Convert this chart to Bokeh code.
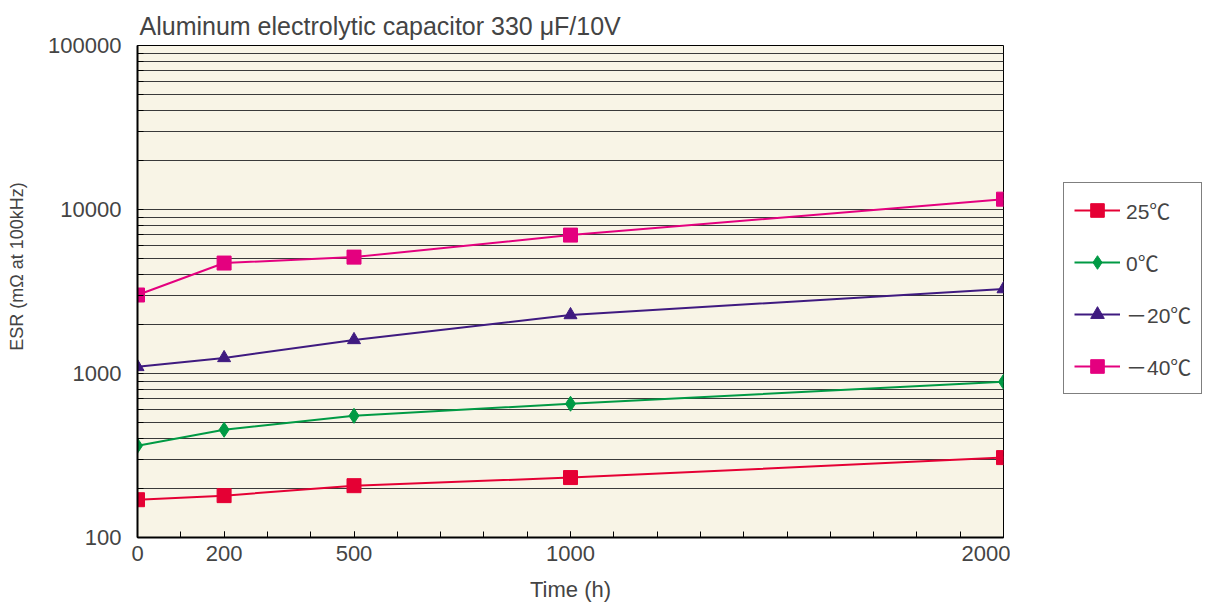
from bokeh.plotting import figure
from bokeh.layouts import row
from bokeh.models import (FixedTicker, Legend, LegendItem, Range1d, CustomJSTickFormatter)
from bokeh.embed import file_html
from bokeh.resources import INLINE

# ---- data ----
times = [0, 200, 500, 1000, 2000]
esr_25 = [170, 180, 207, 232, 307]
esr_0 = [363, 454, 552, 654, 890]
esr_m20 = [1098, 1245, 1603, 2275, 3275]
esr_m40 = [3010, 4715, 5125, 6980, 11560]

series_labels = ["25℃", "0℃", "－20℃", "－40℃"]
x_tick_values = [0, 200, 500, 1000, 2000]
y_tick_values = [100, 1000, 10000, 100000]

title_text = "Aluminum electrolytic capacitor 330 μF/10V"
x_label = "Time (h)"
y_label = "\u00a0" * 10 + "ESR (mΩ at 100kHz)"

FONT = "Liberation Sans, Noto Sans CJK JP"
H = 604

p = figure(width=1010, height=H, y_axis_type="log",
           x_range=Range1d(0, 2000), y_range=Range1d(100, 100000),
           output_backend="svg", toolbar_location=None,
           min_border_left=137, min_border_right=7,
           min_border_top=45, min_border_bottom=H - 538)

p.title.text = title_text
p.title.text_font = FONT
p.title.text_font_size = "25px"
p.title.text_font_style = "normal"
p.title.align = "left"
p.title.offset = 2
p.title.standoff = 12

p.background_fill_color = "#f8f4e6"
p.border_fill_color = "white"
p.outline_line_color = "black"
p.outline_line_width = 1

# x axis
xa = p.xaxis[0]
xa.ticker = FixedTicker(ticks=x_tick_values, minor_ticks=list(range(0, 2001, 100)))
xa.axis_label = x_label
xa.axis_label_text_font = FONT
xa.axis_label_text_font_size = "22px"
xa.axis_label_text_font_style = "normal"
xa.axis_label_standoff = 13
xa.major_label_text_font = FONT
xa.major_label_text_font_size = "22px"
xa.major_label_standoff = 8
xa.major_tick_in = 6
xa.major_tick_out = 0
xa.minor_tick_in = 6
xa.minor_tick_out = 0
xa.axis_line_width = 2
xa.axis_line_color = "black"
xa.major_tick_line_color = "black"
xa.minor_tick_line_color = "black"

# y axis
ya = p.yaxis[0]
minor_y = [k * 10 ** d for d in range(2, 5) for k in range(2, 10)]
ya.ticker = FixedTicker(ticks=y_tick_values, minor_ticks=minor_y)
ya.axis_label = y_label
ya.axis_label_text_font = FONT
ya.axis_label_text_font_size = "18px"
ya.axis_label_text_font_style = "normal"
ya.axis_label_standoff = 18
ya.major_label_text_font = FONT
ya.major_label_text_font_size = "22px"
ya.major_label_standoff = 16
ya.major_tick_in = 6
ya.major_tick_out = 0
ya.minor_tick_in = 6
ya.minor_tick_out = 0
ya.axis_line_width = 2
ya.axis_line_color = "black"
ya.major_tick_line_color = "black"
ya.minor_tick_line_color = "black"
ya.formatter = CustomJSTickFormatter(code="return Math.round(tick).toString();")

p.xgrid.grid_line_color = None
p.ygrid.grid_line_color = "#3a3a3a"
p.ygrid.grid_line_width = 1
p.ygrid.minor_grid_line_color = "#3a3a3a"
p.ygrid.minor_grid_line_width = 1

colors = ["#e50034", "#009a44", "#3f1a80", "#e4007f"]
markers = ["square", "diamond", "triangle", "square"]
sizes = [14, 15, 13, 14]
data = [esr_25, esr_0, esr_m20, esr_m40]

for ys, c, m, s in zip(data, colors, markers, sizes):
    p.line(times, ys, line_color=c, line_width=2)
    p.scatter(times, ys, marker=m, size=s, fill_color=c, line_color=c)

# ---- legend panel (separate small figure) ----
lf = figure(width=1204 - 1010, height=H, x_range=Range1d(0, 1), y_range=Range1d(0, 1),
            output_backend="svg", toolbar_location=None,
            min_border_left=0, min_border_right=0, min_border_top=0, min_border_bottom=0)
lf.axis.visible = False
lf.grid.grid_line_color = None
lf.outline_line_color = None
lf.background_fill_color = "white"
lf.border_fill_color = "white"

items = []
for lab, c, m, s in zip(series_labels, colors, markers, sizes):
    # off-range dummy point so the legend can draw the series' glyphs
    lr = lf.line(x=[-5, -4], y=[-5, -4], line_color=c, line_width=2)
    sr = lf.scatter(x=[-5], y=[-5], marker=m, size=s, fill_color=c, line_color=c)
    items.append(LegendItem(label=lab, renderers=[lr, sr]))

legend = Legend(items=items, location=(1063 - 1010, 538 - 395))
legend.label_text_font = FONT
legend.label_text_font_size = "21px"
legend.glyph_width = 46
legend.glyph_height = 34
legend.label_height = 24
legend.label_standoff = 6
legend.spacing = 18
legend.padding = 10
legend.margin = 0
legend.border_line_color = "black"
legend.border_line_width = 1
legend.background_fill_color = "white"
legend.background_fill_alpha = 1
lf.add_layout(legend, "center")

layout = row(p, lf, spacing=0)
open("out.html", "w").write(file_html(layout, INLINE))
